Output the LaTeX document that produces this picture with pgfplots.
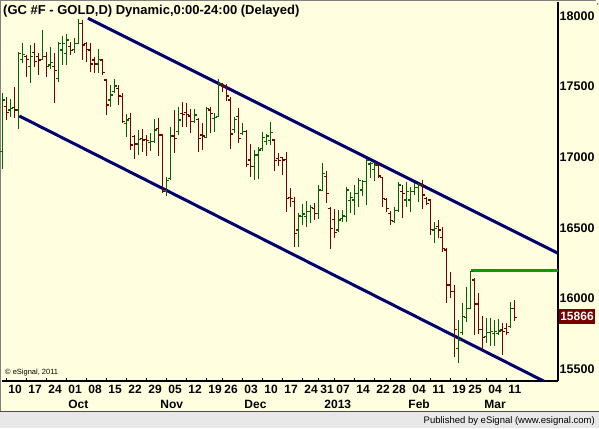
\documentclass[border=0pt]{standalone}
\usepackage{pgfplots}
\pgfplotsset{compat=1.18}
\usepackage{pgfplotstable}
\usepackage{fontspec}
\setmainfont{Liberation Sans}
\definecolor{bg}{HTML}{FFFFE0}
\definecolor{upc}{HTML}{006400}
\definecolor{dnc}{HTML}{7A0000}
\definecolor{chan}{HTML}{00006E}
\definecolor{resist}{HTML}{009E00}
\definecolor{barg}{HTML}{E8E8E8}
\definecolor{pricebox}{HTML}{7A0000}

\pgfdeclareplotmark{otick}{\pgfpathmoveto{\pgfqpoint{-2.7pt}{0pt}}\pgfpathlineto{\pgfqpoint{0pt}{0pt}}\pgfusepathqstroke}
\pgfdeclareplotmark{ctick}{\pgfpathmoveto{\pgfqpoint{0pt}{0pt}}\pgfpathlineto{\pgfqpoint{2.7pt}{0pt}}\pgfusepathqstroke}

% up bars: day index, open, high, low, close
\pgfplotstableread{
d O H L C
-1 17039 17457 16914 17405
1 17335 17410 17283 17346
3 17335 17747 17198 17736
4 17693 17806 17665 17729
6 17641 17795 17528 17712
9 17693 17901 17688 17712
11 17653 17783 17622 17670
13 17559 17818 17535 17806
14 17759 17858 17653 17806
15 17736 17873 17653 17830
17 17764 17842 17736 17806
18 17806 17976 17806 17948
23 17660 17764 17594 17693
26 17405 17511 17358 17441
27 17464 17552 17453 17504
30 17240 17306 17141 17264
33 17094 17193 17016 17127
36 17103 17169 17047 17110
37 17110 17268 17099 17193
40 16763 16862 16726 16834
41 16851 17212 16839 17150
43 17181 17358 17158 17264
47 17252 17339 17245 17299
50 17139 17358 17134 17346
52 17276 17316 17181 17283
53 17287 17552 17287 17523
57 17198 17287 17169 17268
59 17169 17245 17158 17181
62 16933 17051 16839 17016
63 17016 17075 16844 17051
64 17060 17180 17045 17141
65 17110 17165 17087 17150
66 17117 17252 17087 17174
73 16485 16603 16367 16584
74 16579 16669 16520 16598
75 16579 16693 16504 16615
76 16615 16662 16532 16645
78 16603 16803 16560 16768
79 16763 16962 16763 16886
83 16485 16626 16473 16556
84 16567 16626 16544 16584
85 16579 16792 16544 16768
86 16693 16756 16603 16716
87 16697 16803 16591 16744
88 16744 16851 16650 16834
89 16768 16839 16726 16827
90 16827 16985 16662 16976
91 16952 16969 16851 16957
92 16914 16957 16834 16945
97 16544 16650 16537 16622
98 16622 16827 16615 16803
100 16697 16827 16650 16756
101 16697 16792 16615 16756
102 16756 16815 16733 16787
103 16787 16815 16685 16803
107 16485 16544 16395 16494
113 15647 15848 15546 15706
114 15760 15966 15742 15870
115 15867 16084 15836 15930
116 15930 16197 15930 16190
120 15730 15860 15687 15758
121 15758 15860 15664 15765
122 15753 15848 15664 15768
123 15753 15852 15742 15770
126 15801 15978 15789 15930
}\upbars

% down bars
\pgfplotstableread{
d O H L C
0 17358 17424 17264 17316
2 17353 17495 17276 17335
5 17712 17724 17570 17693
7 17740 17806 17641 17677
8 17712 17736 17582 17688
10 17712 17747 17570 17641
12 17641 17736 17382 17613
16 17783 17818 17724 17755
19 17948 17972 17688 17795
20 17806 17818 17677 17764
21 17759 17806 17606 17660
22 17688 17712 17594 17660
24 17688 17688 17582 17599
25 17547 17552 17299 17370
28 17488 17511 17370 17434
29 17429 17453 17240 17252
31 17276 17311 17051 17087
32 17146 17158 16985 17094
34 17134 17198 17040 17122
35 17127 17158 17009 17117
38 17205 17276 17009 17158
39 17158 17158 16749 16756
42 17150 17335 17028 17134
44 17311 17394 17217 17300
45 17316 17386 17217 17300
46 17292 17339 17174 17252
48 17268 17276 17040 17134
49 17158 17240 17051 17150
51 17335 17353 17174 17311
54 17512 17528 17464 17500
55 17500 17519 17401 17434
56 17405 17429 17056 17165
58 17287 17346 17099 17134
60 17181 17193 16933 16950
61 16980 17094 16858 16933
67 17122 17127 16905 16976
68 16992 17028 16938 16976
69 16999 17004 16874 16980
70 16985 17039 16615 16709
71 16716 16780 16650 16709
72 16686 16721 16367 16461
77 16638 16674 16556 16603
80 16862 16905 16674 16744
81 16638 16645 16348 16497
82 16560 16631 16426 16466
93 16945 16957 16851 16867
94 16858 16863 16645 16709
95 16702 16709 16615 16638
96 16600 16622 16520 16550
99 16756 16803 16567 16744
104 16803 16839 16631 16733
105 16709 16721 16662 16674
106 16697 16702 16449 16490
108 16509 16556 16426 16485
109 16433 16504 16332 16355
110 16343 16355 15966 16095
111 16095 16190 16001 16048
112 16048 16095 15583 15782
117 16131 16143 15742 15961
118 15961 16036 15749 15782
119 15782 15876 15635 15725
124 15777 15829 15600 15765
125 15790 15824 15742 15762
127 15930 15989 15843 15866
}\dnbars

\begin{document}
\begin{tikzpicture}
\useasboundingbox (0,0) rectangle (599pt,428pt);
\fill[bg] (0,0) rectangle (599pt,428pt);
\fill[barg] (0,0) rectangle (599pt,16pt);
\draw[gray!60!black, line width=1.5pt] (0,16.5pt) -- (599pt,16.5pt);
\draw[gray, line width=1.2pt] (0.6pt,17pt) -- (0.6pt,427.4pt) -- (596pt,427.4pt);
\begin{axis}[
  at={(2pt,47pt)}, anchor=south west,
  scale only axis, width=556pt, height=379pt,
  xmin=-1.175, xmax=137.8, ymin=15416, ymax=18099,
  axis x line=bottom, axis y line=right,
  axis line style={-, black, line width=1.2pt},
  tick align=inside,
  xtick={0,5,10,15,20,25,30,35,40,45,50,54,59,64,69,74,78,82,87,92,96,101,106,111,115,120,125},
  xticklabels={10,17,24,01,08,15,22,29,05,12,19,26,03,10,17,24,31,07,14,22,28,04,11,19,25,04,11},
  ytick={15500,16000,16500,17000,17500,18000},
  yticklabels={15500,16000,16500,17000,17500,18000},
  ytick style={draw=none},
  xtick style={black, line width=0.8pt},
  major tick length=2.5pt,
  xticklabel style={anchor=north west, inner sep=0pt, xshift=1.5pt, yshift=-4pt, font=\fontsize{12}{12}\selectfont\bfseries},
  yticklabel style={anchor=west, inner sep=0pt, xshift=1.5pt, font=\fontsize{12.5}{12.5}\selectfont\bfseries},
  extra x ticks={15,38,59,79,100,119},
  extra x tick labels={Oct,Nov,Dec,2013,Feb,Mar},
  extra x tick style={major tick length=0pt, xticklabel style={yshift=-15pt}},
]
% channel lines
\addplot[chan, line width=3pt] coordinates {(20.3,17984) (137.8,16320)};
\addplot[chan, line width=3pt] coordinates {(3.15,17292) (137.8,15364)};
% resistance line
\addplot[resist, line width=2.8pt] coordinates {(116,16197) (137.8,16197)};
% OHLC bars: high-low ranges as error bars around the close
\addplot[draw=none, mark=none, error bars/.cd, y dir=both, y explicit, error mark=none,
  error bar style={draw=upc, line width=1.2pt}]
  table[x=d, y=C, y error plus expr=\thisrow{H}-\thisrow{C}, y error minus expr=\thisrow{C}-\thisrow{L}] {\upbars};
\addplot[upc, only marks, mark=otick, mark options={line width=1.2pt}] table[x=d, y=O] {\upbars};
\addplot[upc, only marks, mark=ctick, mark options={line width=1.2pt}] table[x=d, y=C] {\upbars};
\addplot[draw=none, mark=none, error bars/.cd, y dir=both, y explicit, error mark=none,
  error bar style={draw=dnc, line width=1.2pt}]
  table[x=d, y=C, y error plus expr=\thisrow{H}-\thisrow{C}, y error minus expr=\thisrow{C}-\thisrow{L}] {\dnbars};
\addplot[dnc, only marks, mark=otick, mark options={line width=1.2pt}] table[x=d, y=O] {\dnbars};
\addplot[dnc, only marks, mark=ctick, mark options={line width=1.2pt}] table[x=d, y=C] {\dnbars};
\end{axis}
\node[anchor=base west, inner sep=0pt, font=\fontsize{13}{13}\selectfont\bfseries] at (3pt,413.5pt) {(GC \#F - GOLD,D) Dynamic,0:00-24:00 (Delayed)};
\node[anchor=west, inner sep=0pt, font=\fontsize{7.5}{7.5}\selectfont] at (5pt,55pt) {\textcopyright\ eSignal, 2011};
\fill[pricebox] (559pt,104pt) rectangle (595pt,118.7pt);
\node[white, inner sep=0pt, font=\fontsize{12}{12}\selectfont\bfseries] at (577pt,111.3pt) {15866};
\node[anchor=east, inner sep=0pt, font=\fontsize{9.5}{9.5}\selectfont] at (595pt,7pt) {Published by eSignal (www.esignal.com)};
\end{tikzpicture}
\end{document}
